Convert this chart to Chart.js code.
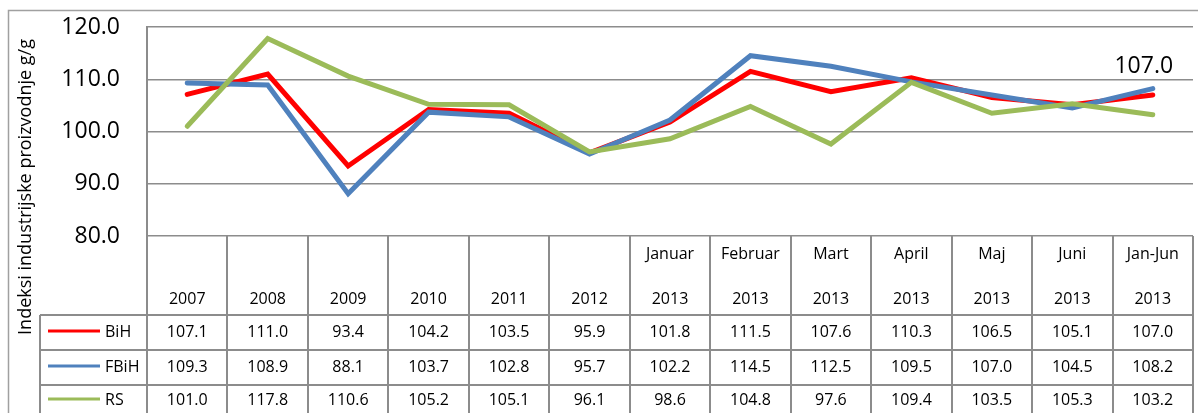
<!DOCTYPE html>
<html>
<head>
<meta charset="utf-8">
<script src="https://cdn.jsdelivr.net/npm/chart.js@4"></script>
<style>
html,body{margin:0;padding:0;background:#fff;}
canvas{display:block;}
</style>
</head>
<body>
<canvas id="c" width="1198" height="413"></canvas>
<script>
const headerLine1 = ["", "", "", "", "", "", "Januar", "Februar", "Mart", "April", "Maj", "Juni", "Jan-Jun"];
const headerLine2 = ["2007", "2008", "2009", "2010", "2011", "2012", "2013", "2013", "2013", "2013", "2013", "2013", "2013"];
const seriesNames = ["BiH", "FBiH", "RS"];
const bih  = [107.1, 111.0, 93.4, 104.2, 103.5, 95.9, 101.8, 111.5, 107.6, 110.3, 106.5, 105.1, 107.0];
const fbih = [109.3, 108.9, 88.1, 103.7, 102.8, 95.7, 102.2, 114.5, 112.5, 109.5, 107.0, 104.5, 108.2];
const rs   = [101.0, 117.8, 110.6, 105.2, 105.1, 96.1, 98.6, 104.8, 97.6, 109.4, 103.5, 105.3, 103.2];
const yTitle = "Indeksi industrijske proizvodnje g/g";
const yMin = 80, yMax = 120, yStep = 10;

const colors = ["#FF0000", "#4F81BD", "#9BBB59"];
const seriesData = [bih, fbih, rs];
const labels = headerLine1.map((a, i) => (a ? a + " " : "") + headerLine2[i]);
const FONT = "'Open Sans', 'Liberation Sans', sans-serif";
const LINE = "#8c8c8c";

const tablePlugin = {
  id: 'tablePlugin',
  afterDraw(chart) {
    const ctx = chart.ctx;
    const x = chart.scales.x;
    const area = chart.chartArea;
    const n = labels.length;
    const colW = (x.getPixelForValue(1) - x.getPixelForValue(0));
    const right = area.right;
    const rowLines = [315, 350, 385];
    const bottom = 413;
    ctx.save();
    // outer border
    ctx.strokeStyle = "#a0a0a0";
    ctx.lineWidth = 1.5;
    ctx.beginPath();
    ctx.moveTo(8.5, 414); ctx.lineTo(8.5, 10.5); ctx.lineTo(1199, 10.5);
    ctx.stroke();
    // table lines
    ctx.strokeStyle = LINE;
    ctx.lineWidth = 2;
    ctx.beginPath();
    for (let i = 0; i <= n; i++) {
      const px = Math.round(x.getPixelForValue(i) - colW / 2);
      ctx.moveTo(px, area.bottom); ctx.lineTo(px, bottom);
    }
    ctx.moveTo(40, rowLines[0]); ctx.lineTo(40, bottom);
    rowLines.forEach(y => { ctx.moveTo(40, y); ctx.lineTo(right, y); });
    ctx.stroke();
    // header text
    ctx.fillStyle = "#000";
    ctx.font = "16px " + FONT;
    ctx.textAlign = "center";
    ctx.textBaseline = "alphabetic";
    for (let i = 0; i < n; i++) {
      const px = x.getPixelForValue(i);
      if (headerLine1[i]) ctx.fillText(headerLine1[i], px, 259);
      ctx.fillText(headerLine2[i], px, 304);
    }
    // value rows
    const baselines = [337, 372, 405];
    seriesData.forEach((arr, r) => {
      for (let i = 0; i < n; i++) {
        ctx.fillText(arr[i].toFixed(1), x.getPixelForValue(i), baselines[r]);
      }
      ctx.strokeStyle = colors[r];
      ctx.lineWidth = 3;
      ctx.beginPath();
      ctx.moveTo(48, baselines[r] - 6); ctx.lineTo(100, baselines[r] - 6);
      ctx.stroke();
      ctx.textAlign = "left";
      ctx.fillText(seriesNames[r], 105, baselines[r]);
      ctx.textAlign = "center";
    });
    // y title
    ctx.save();
    ctx.translate(31, 187);
    ctx.rotate(-Math.PI / 2);
    ctx.font = "18px " + FONT;
    ctx.textAlign = "center";
    ctx.textBaseline = "alphabetic";
    ctx.fillText(yTitle, 0, 0);
    ctx.restore();
    // data label on last BiH point
    const yS = chart.scales.y;
    const last = n - 1;
    ctx.font = "23px " + FONT;
    ctx.textAlign = "center";
    ctx.fillText(bih[last].toFixed(1), x.getPixelForValue(last) - 9, yS.getPixelForValue(bih[last]) - 22);
    ctx.restore();
  }
};

new Chart(document.getElementById('c'), {
  type: 'line',
  data: {
    labels: labels,
    datasets: seriesData.map((d, i) => ({
      label: seriesNames[i],
      data: d,
      borderColor: colors[i],
      backgroundColor: colors[i],
      borderWidth: 5,
      pointRadius: 0,
      pointHoverRadius: 0,
      tension: 0,
      borderCapStyle: 'round',
      borderJoinStyle: 'miter',
      order: 3 - i
    }))
  },
  options: {
    responsive: false,
    animation: false,
    devicePixelRatio: 1,
    layout: { padding: { left: 0, right: 5, top: 27, bottom: 177 } },
    plugins: { legend: { display: false }, tooltip: { enabled: false } },
    scales: {
      x: { display: false, offset: true },
      y: {
        min: yMin, max: yMax,
        afterFit(scale) { scale.width = 147; scale.paddingTop = 0; scale.paddingBottom = 0; },
        ticks: {
          stepSize: yStep,
          padding: 27,
          color: "#000",
          font: { family: FONT, size: 23 },
          callback: v => v.toFixed(1)
        },
        grid: { color: LINE, lineWidth: 1.5, drawTicks: false },
        border: { display: true, color: LINE, width: 2 }
      }
    }
  },
  plugins: [tablePlugin]
});
</script>
</body>
</html>
